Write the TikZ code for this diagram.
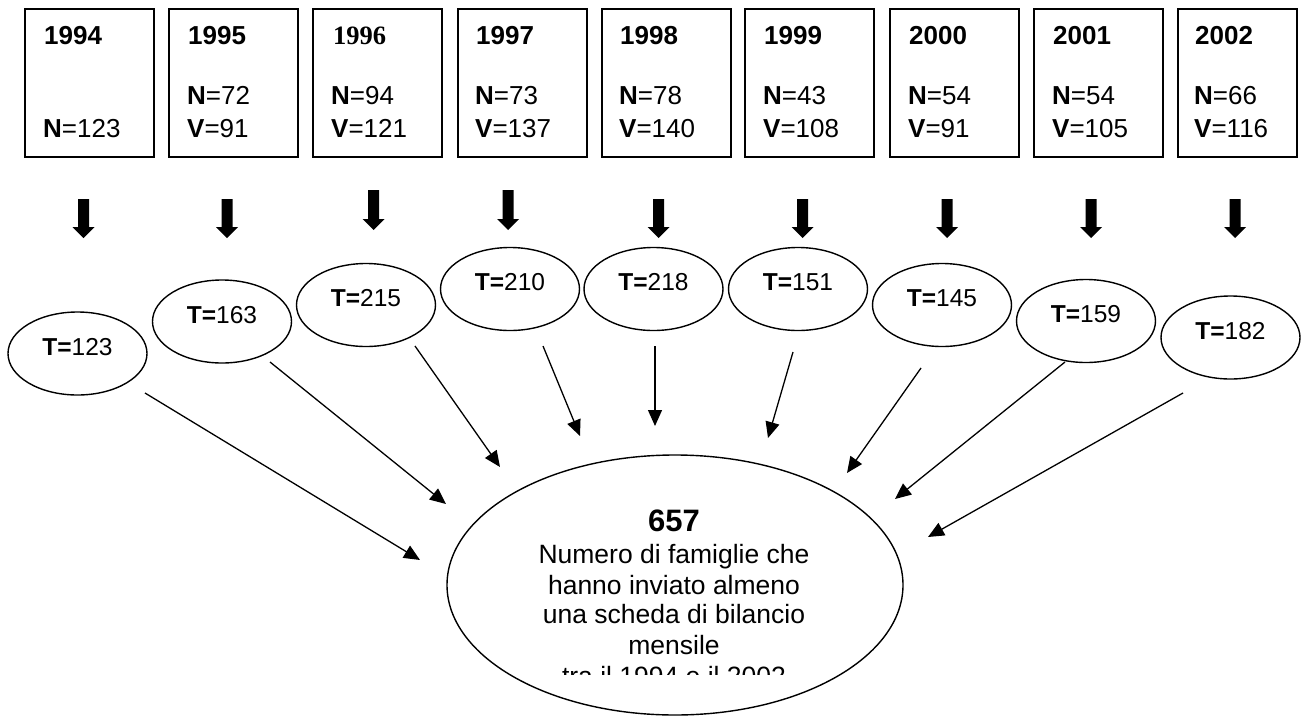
\documentclass[tikz,border=0pt]{standalone}
\usepackage{fontspec}
\setmainfont{Liberation Sans}
\newfontfamily\serifyear{Liberation Serif}
\usetikzlibrary{arrows.meta,shapes.geometric}
\newcommand\blkarrow[3]{\fill ({#1-5.5},#2) -- ({#1+5.5},#2) -- ({#1+5.5},{#3-11}) -- ({#1+11},{#3-11}) -- (#1,#3) -- ({#1-11},{#3-11}) -- ({#1-5.5},{#3-11}) -- cycle;}
\begin{document}
\begin{tikzpicture}[x=1pt,y=-1pt,
  yearbox/.style={draw,line width=1.6pt,minimum width=129pt,minimum height=148pt,inner sep=0pt,anchor=north west},
  boxtxt/.style={anchor=base west,inner sep=0pt,font=\fontsize{26}{28}\selectfont},
  tell/.style={draw,ellipse,line width=1.4pt,minimum width=139pt,minimum height=83pt,inner sep=0pt,
    text height=17pt,text depth=14pt,font=\fontsize{24.5}{26}\selectfont},
  bigtxt/.style={anchor=base,inner sep=0pt,font=\fontsize{26.5}{30}\selectfont},
  conn/.style={line width=1.3pt,-{Triangle[length=16pt,width=14pt]}}]
\useasboundingbox (0,0) rectangle (1301,715);
% boxes
\node[yearbox] (b1) at (24,8) {};
\node[yearbox] (b2) at (168,8) {};
\node[yearbox] (b3) at (312,8) {};
\node[yearbox] (b4) at (457,8) {};
\node[yearbox] (b5) at (601,8) {};
\node[yearbox] (b6) at (744,8) {};
\node[yearbox] (b7) at (889,8) {};
\node[yearbox] (b8) at (1033,8) {};
\node[yearbox,minimum width=119pt] (b9) at (1177,8) {};
% box texts
\node[boxtxt] (y1) at (44,44) {\textbf{1994}};
\node[boxtxt] (n1) at (43,137) {\textbf{N}=123};
\node[boxtxt] (y2) at (188,44) {\textbf{1995}};
\node[boxtxt] (n2) at (187,104) {\textbf{N}=72};
\node[boxtxt] (v2) at (187,137) {\textbf{V}=91};
\node[boxtxt,font=\fontsize{26.5}{28}\selectfont] (y3) at (333,44) {\serifyear\bfseries 1996};
\node[boxtxt] (n3) at (331,104) {\textbf{N}=94};
\node[boxtxt] (v3) at (331,137) {\textbf{V}=121};
\node[boxtxt] (y4) at (476,44) {\textbf{1997}};
\node[boxtxt] (n4) at (475,104) {\textbf{N}=73};
\node[boxtxt] (v4) at (475,137) {\textbf{V}=137};
\node[boxtxt] (y5) at (620,44) {\textbf{1998}};
\node[boxtxt] (n5) at (619,104) {\textbf{N}=78};
\node[boxtxt] (v5) at (619,137) {\textbf{V}=140};
\node[boxtxt] (y6) at (764,44) {\textbf{1999}};
\node[boxtxt] (n6) at (763,104) {\textbf{N}=43};
\node[boxtxt] (v6) at (763,137) {\textbf{V}=108};
\node[boxtxt] (y7) at (909,44) {\textbf{2000}};
\node[boxtxt] (n7) at (908,104) {\textbf{N}=54};
\node[boxtxt] (v7) at (908,137) {\textbf{V}=91};
\node[boxtxt] (y8) at (1053,44) {\textbf{2001}};
\node[boxtxt] (n8) at (1052,104) {\textbf{N}=54};
\node[boxtxt] (v8) at (1052,137) {\textbf{V}=105};
\node[boxtxt] (y9) at (1195,44) {\textbf{2002}};
\node[boxtxt] (n9) at (1194,104) {\textbf{N}=66};
\node[boxtxt] (v9) at (1194,137) {\textbf{V}=116};
% block arrows
\blkarrow{83.5}{199}{238}
\blkarrow{227}{199}{238}
\blkarrow{373.5}{190}{230}
\blkarrow{508}{190}{230}
\blkarrow{658.5}{199}{238}
\blkarrow{802.5}{199}{238}
\blkarrow{947}{199}{238}
\blkarrow{1091}{199}{238}
\blkarrow{1235}{199}{238}
% ellipses
\node[tell] (t1) at (77.5,353.5) {\textbf{T=}123};
\node[tell] (t2) at (222,321.5) {\textbf{T=}163};
\node[tell] (t3) at (366,305) {\textbf{T=}215};
\node[tell] (t4) at (510,289) {\textbf{T=}210};
\node[tell] (t5) at (653.5,289) {\textbf{T=}218};
\node[tell] (t6) at (798,289) {\textbf{T=}151};
\node[tell] (t7) at (942,305) {\textbf{T=}145};
\node[tell] (t8) at (1086,321) {\textbf{T=}159};
\node[tell] (t9) at (1230.5,337.5) {\textbf{T=}182};
% big ellipse
\node[draw,ellipse,line width=1.4pt,minimum width=456pt,minimum height=260pt,inner sep=0pt] (big) at (675,585) {};
\node[bigtxt,font=\fontsize{31}{34}\selectfont\bfseries] (l0) at (674,531) {657};
\node[bigtxt] (l1) at (674,563) {Numero di famiglie che};
\node[bigtxt] (l2) at (674,594) {hanno inviato almeno};
\node[bigtxt] (l3) at (674,623) {una scheda di bilancio};
\node[bigtxt] (l4) at (674,654) {mensile};
\begin{scope}
\clip (400,440) rectangle (950,674);
\node[bigtxt] (l5) at (674,685) {tra il 1994 e il 2002};
\end{scope}
% connectors
\coordinate (s1) at (145,393); \coordinate (e1) at (420,560);
\coordinate (s2) at (270,362); \coordinate (e2) at (446,504);
\coordinate (s3) at (415,346); \coordinate (e3) at (500,467);
\coordinate (s4) at (543,346); \coordinate (e4) at (580,436);
\coordinate (s5) at (655,346); \coordinate (e5) at (655,426);
\coordinate (s6) at (793,352); \coordinate (e6) at (768,438);
\coordinate (s7) at (921,368); \coordinate (e7) at (847,473);
\coordinate (s8) at (1065,362); \coordinate (e8) at (895,499);
\coordinate (s9) at (1183,393); \coordinate (e9) at (928,537);
\foreach \i in {1,...,9} {\draw[conn] (s\i) -- (e\i);}
\end{tikzpicture}
\end{document}
